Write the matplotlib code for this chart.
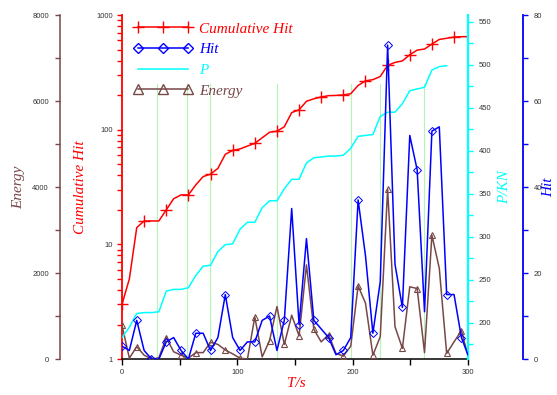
import matplotlib.pyplot as plt
from matplotlib.lines import Line2D
from matplotlib.ticker import MultipleLocator, NullFormatter, FuncFormatter, LogLocator

plt.rcParams['font.family'] = 'Liberation Sans'

# sample times (s)
t = [0, 6.4, 12.8, 19.2, 25.6, 32.0, 38.4, 44.8, 51.2, 57.6,
     64.0, 70.4, 76.8, 83.2, 89.6, 96.0, 102.4, 108.8, 115.2, 121.6,
     128.0, 134.4, 140.8, 147.2, 153.6, 160.0, 166.4, 172.8, 179.2, 185.6,
     192.0, 198.4, 204.8, 211.2, 217.6, 224.0, 230.4, 236.8, 243.2, 249.6,
     256.0, 262.4, 268.8, 275.2, 281.6, 288.0, 294.4, 300.0]

hit = [3, 2, 9, 2, 0, 0, 4, 5, 2, 0,
       6, 6, 2, 5, 15, 5, 2, 4, 4, 9,
       10, 2, 9, 35, 8, 28, 9, 7, 5, 1,
       2, 5, 37, 24, 6, 18, 73, 22, 12, 52,
       44, 11, 53, 54, 15, 15, 5, 1]

cum_hit = [3, 5, 14, 16, 16, 16, 20, 25, 27, 27,
           33, 39, 41, 46, 61, 66, 68, 72, 76, 85,
           95, 97, 106, 141, 149, 177, 186, 193, 198, 199,
           201, 206, 243, 267, 273, 291, 364, 386, 398, 450,
           494, 505, 558, 612, 627, 642, 647, 648]

energy = [790, 20, 290, 90, 0, 30, 500, 170, 90, 20,
          150, 150, 390, 340, 210, 120, 20, 0, 980, 50,
          430, 1220, 340, 1020, 540, 2190, 690, 400, 570, 130,
          70, 300, 1700, 1300, 90, 520, 3950, 750, 250, 1680,
          1640, 150, 2880, 2110, 130, 400, 660, 90]

# load only logged up to ~282 s
p_kn = [183, 195, 211, 212, 212, 213, 237, 239, 239, 241,
        255, 266, 267, 283, 291, 292, 309, 317, 317, 334,
        342, 342, 356, 367, 367, 386, 392, 393, 394, 394,
        395, 403, 417, 418, 419, 440, 445, 445, 455, 470,
        472, 474, 494, 498, 499]

events = [30.7, 56.3, 76.5, 134.5, 198.9, 223.5, 262.0]

RED = '#ff0000'
BLUE = '#0000ff'
CYAN = '#00ffff'
BROWN = '#784848'
GREEN = '#b4f4b4'
TXT = '#333333'

lab = dict(family='Liberation Serif', style='italic', size=11)

fig = plt.figure(figsize=(5.57, 3.95), dpi=100)
ax = fig.add_axes([0.219, 0.091, 0.621, 0.871])
axE = ax.twinx()
axP = ax.twinx()
axH = ax.twinx()

for a in (ax, axE, axP, axH):
    for s in a.spines.values():
        s.set_visible(False)

# cumulative hits, log scale
ax.set_xlim(0, 300)
ax.set_yscale('log')
ax.set_ylim(1, 1000)
for x in events:
    ax.axvline(x, ymin=0, ymax=0.8, color=GREEN, lw=0.8, zorder=0)
ax.plot(t, cum_hit, color=RED, lw=1.1, marker='+', ms=8, mew=1.0, markevery=3)

ax.spines['left'].set_visible(True)
ax.spines['left'].set_color(RED)
ax.spines['left'].set_linewidth(1.3)
ax.spines['bottom'].set_visible(True)
ax.spines['bottom'].set_linewidth(1.1)
ax.yaxis.set_major_locator(LogLocator(base=10))
ax.yaxis.set_minor_locator(LogLocator(base=10, subs=range(2, 10)))
ax.yaxis.set_major_formatter(FuncFormatter(lambda v, _: f'{v:g}'))
ax.yaxis.set_minor_formatter(NullFormatter())
ax.tick_params(axis='y', which='both', direction='out', length=3.6, width=1.0,
               color=RED, labelcolor=TXT, labelsize=5.5, pad=3)
ax.xaxis.set_major_locator(MultipleLocator(100))
ax.xaxis.set_minor_locator(MultipleLocator(50))
ax.tick_params(axis='x', which='both', direction='out', length=4.3, width=1.0,
               color='black', labelcolor=TXT, labelsize=5.5, pad=3)
ax.set_ylabel('Cumulative Hit', color=RED, ha='center', va='center', **lab)
ax.yaxis.set_label_coords(-0.121, 0.5)
ax.set_xlabel('T/s', color=RED, ha='center', va='center', **lab)
ax.xaxis.set_label_coords(0.503, -0.07)

# energy on outer left axis
axE.plot(t, energy, color=BROWN, lw=1.1, marker='^', ms=5, mfc='none',
         mec=BROWN, mew=0.8, markevery=2)
axE.set_ylim(0, 8000)
axE.yaxis.set_ticks_position('left')
axE.yaxis.set_label_position('left')
axE.spines['left'].set_visible(True)
axE.spines['left'].set_position(('axes', -0.179))
axE.spines['left'].set_color(BROWN)
axE.spines['left'].set_linewidth(1.1)
axE.yaxis.set_major_locator(MultipleLocator(2000))
axE.yaxis.set_minor_locator(MultipleLocator(1000))
axE.tick_params(axis='y', which='both', direction='out', length=3.6, width=1.0,
                color=BROWN, labelcolor=TXT, labelsize=5.5, pad=4.5)
axE.set_ylabel('Energy', color=BROWN, ha='center', va='center', **lab)
axE.yaxis.set_label_coords(-0.298, 0.5)

# load P on inner right axis
axP.plot(t[:len(p_kn)], p_kn, color=CYAN, lw=1.1)
axP.set_ylim(158, 558)
axP.spines['right'].set_visible(True)
axP.spines['right'].set_color(CYAN)
axP.spines['right'].set_linewidth(1.6)
axP.yaxis.set_major_locator(MultipleLocator(50))
axP.yaxis.set_minor_locator(MultipleLocator(25))
axP.tick_params(axis='y', which='both', direction='out', length=3.6, width=1.0,
                color=CYAN, labelcolor=TXT, labelsize=5.5, pad=4)
axP.set_ylabel('P/KN', color=CYAN, ha='center', va='center', **lab)
axP.yaxis.set_label_coords(1.107, 0.5)

# hits per interval on outer right axis
axH.plot(t, hit, color=BLUE, lw=1.1, marker='D', ms=4.5, mfc='none',
         mec=BLUE, mew=0.7, markevery=2)
axH.set_ylim(0, 80)
axH.spines['right'].set_visible(True)
axH.spines['right'].set_position(('axes', 1.159))
axH.spines['right'].set_color(BLUE)
axH.spines['right'].set_linewidth(1.3)
axH.yaxis.set_major_locator(MultipleLocator(20))
axH.yaxis.set_minor_locator(MultipleLocator(10))
axH.tick_params(axis='y', which='both', direction='out', length=3.6, width=1.0,
                color=BLUE, labelcolor=TXT, labelsize=5.5, pad=4)
axH.set_ylabel('Hit', color=BLUE, ha='center', va='center', **lab)
axH.yaxis.set_label_coords(1.233, 0.5)

handles = [
    Line2D([], [], color=RED, lw=1.1, marker='+', ms=9, mew=1.0),
    Line2D([], [], color=BLUE, lw=1.1, marker='D', ms=5.5, mfc='none', mew=1.0),
    Line2D([], [], color=CYAN, lw=1.1),
    Line2D([], [], color=BROWN, lw=1.1, marker='^', ms=6.5, mfc='none', mew=1.0),
]
names = ['Cumulative Hit', 'Hit', 'P', 'Energy']
leg = axH.legend(handles, names, loc='upper left', bbox_to_anchor=(0.032, 0.98),
                 frameon=False, prop=dict(family='Liberation Serif', style='italic', size=11),
                 numpoints=3, handlelength=3.9, handletextpad=0.4,
                 labelspacing=0.46, borderpad=0, borderaxespad=0)
for txt, c in zip(leg.get_texts(), [RED, BLUE, CYAN, BROWN]):
    txt.set_color(c)

fig.savefig('out.png', dpi=100)
